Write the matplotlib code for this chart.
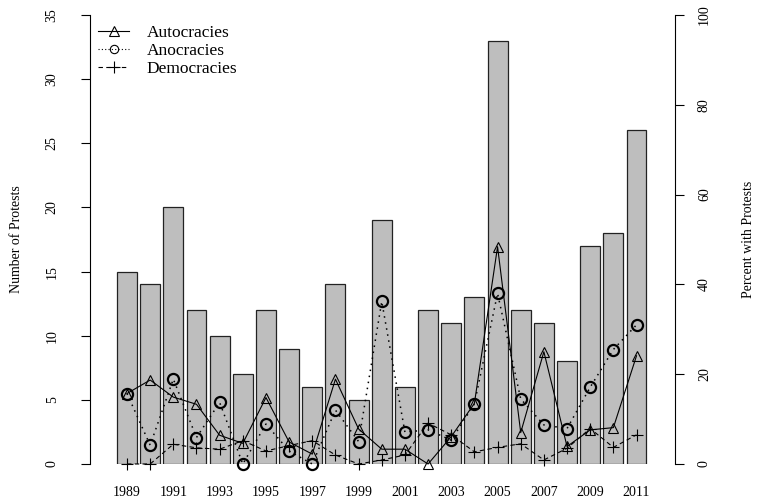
import matplotlib
matplotlib.use('Agg')
import matplotlib.pyplot as plt
from matplotlib.lines import Line2D
import numpy as np

plt.rcParams['font.family'] = ['Liberation Serif', 'DejaVu Serif']

# Datos
years = list(range(1989, 2012))
protests = [15, 14, 20, 12, 10, 7, 12, 9, 6, 14, 5, 19, 6, 12, 11, 13, 33, 12, 11, 8, 17, 18, 26]
autocracies = [15.7, 18.7, 14.9, 13.3, 6.4, 4.6, 14.8, 4.9, 2.2, 18.9, 7.8, 3.3,
               3.3, 0.0, 6.1, 13.5, 48.4, 7.0, 25.0, 3.9, 7.6, 8.1, 24.1]
anocracies = [15.7, 4.2, 18.9, 5.9, 13.7, 0.0, 8.9, 2.9, 0.0, 12.0, 5.0, 36.2,
              7.1, 7.6, 5.3, 13.4, 38.0, 14.5, 8.7, 7.9, 17.1, 25.5, 31.0]
democracies = [0.0, 0.0, 4.4, 3.6, 3.3, 5.2, 2.9, 4.1, 5.2, 2.0, 0.0, 0.9,
               2.0, 9.1, 6.5, 2.7, 3.7, 4.5, 0.9, 3.5, 7.9, 3.7, 6.5]

x = np.arange(len(years))

W, H = 757, 499
fig = plt.figure(figsize=(W / 100, H / 100), dpi=100)
ax = fig.add_axes([90 / W, (H - 464) / H, (675 - 90) / W, 449 / H])

# Barras
ax.bar(x, protests, width=0.86, color='#bebebe', edgecolor='#222222', linewidth=0.9, zorder=2)
ax.set_xlim((90 - 127) / 23.16, (675 - 127) / 23.16)
ax.set_ylim(0, 35)
ax.set_yticks(range(0, 36, 5))
ax.tick_params(axis='y', length=6.5, width=0.8, pad=16, labelsize=10, labelrotation=90)
for lab in ax.get_yticklabels():
    lab.set_va('center')
ax.set_xticks(x[::2])
ax.set_xticklabels([str(y) for y in years[::2]])
ax.tick_params(axis='x', length=0, pad=16, labelsize=10)
for s in ['top', 'bottom', 'right']:
    ax.spines[s].set_visible(False)
ax.spines['left'].set_linewidth(0.8)
ax.set_ylabel('Number of Protests', fontsize=10)
ax.yaxis.set_label_coords(-(90 - 23) / (675 - 90), 0.5)

# Eje derecho: porcentajes
ax2 = ax.twinx()
ax2.set_ylim(0, 100)
ax2.set_yticks(range(0, 101, 20))
ax2.tick_params(axis='y', length=6.5, width=0.8, pad=10, labelsize=10, labelrotation=90)
for lab in ax2.get_yticklabels():
    lab.set_va('center')
for s in ['top', 'bottom', 'left']:
    ax2.spines[s].set_visible(False)
ax2.spines['right'].set_linewidth(0.8)
ax2.set_ylabel('Percent with Protests', fontsize=10, rotation=90)
ax2.yaxis.set_label_coords(1 + (742 - 675) / (675 - 90), 0.5)

ax2.plot(x, autocracies, color='black', linestyle='-', linewidth=0.8,
         marker='^', markersize=7, markerfacecolor='none', markeredgewidth=0.8, clip_on=False)
ax2.plot(x, anocracies, color='black', linestyle=(0, (1, 3)), linewidth=1.1,
         marker='o', markersize=8, markerfacecolor='none', markeredgewidth=1.6, clip_on=False)
ax2.plot(x, democracies, color='black', linestyle=(0, (4, 3)), linewidth=0.8,
         marker='+', markersize=8, markeredgewidth=0.8, clip_on=False)

handles = [
    Line2D([], [], color='black', linestyle='-', linewidth=0.8, marker='^',
           markersize=7, markerfacecolor='none', markeredgewidth=0.8),
    Line2D([], [], color='black', linestyle=(0, (1, 2)), linewidth=0.8, marker='o',
           markersize=6, markerfacecolor='none', markeredgewidth=0.8),
    Line2D([], [], color='black', linestyle=(0, (4, 3)), linewidth=0.8, marker='+',
           markersize=8, markeredgewidth=0.8),
]
fig.legend(handles, ['Autocracies', 'Anocracies', 'Democracies'], loc='upper left',
           bbox_to_anchor=(98 / W, 1 - 25 / H), frameon=False, fontsize=12.5,
           handlelength=1.8, handletextpad=1.0, labelspacing=0.1, borderpad=0,
           borderaxespad=0)

fig.savefig('out.png', dpi=100)
